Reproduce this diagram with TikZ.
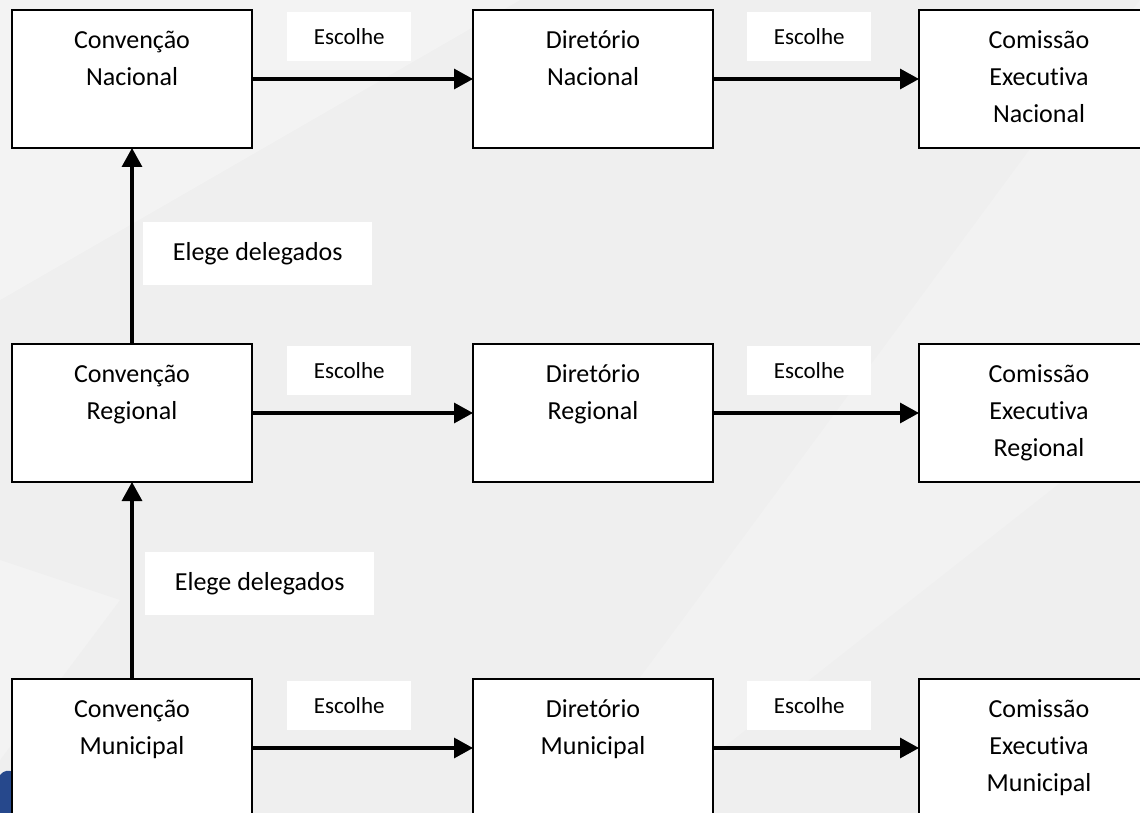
\documentclass[tikz,border=0pt]{standalone}
\usepackage{fontspec}
\setmainfont{Carlito}[Ligatures={NoCommon}]
\usetikzlibrary{positioning,arrows.meta}
\definecolor{fundo}{RGB}{239,239,239}
\definecolor{azul}{RGB}{38,72,140}
\newcommand{\caixatexto}[1]{\parbox[c][112pt][t]{230pt}{\centering\strut#1}}
\tikzset{
  caixa/.style={draw=black, line width=2.8pt, fill=white, minimum width=240pt, minimum height=138pt,
    inner sep=0pt, outer sep=0pt, font=\fontsize{26}{37}\selectfont},
  rotulo/.style={fill=white, minimum width=124pt, minimum height=49pt, inner sep=0pt, font=\fontsize{23}{27}\selectfont},
  elege/.style={fill=white, minimum width=229pt, minimum height=63pt, inner sep=0pt, font=\fontsize{26}{31}\selectfont},
  seta/.style={line width=3.2pt, -{Triangle[length=19pt,width=20pt]}}
}
\begin{document}
\begin{tikzpicture}[x=1pt,y=-1pt]

\useasboundingbox (0,0) rectangle (1140,813);
\clip (0,0) rectangle (1140,813);
\fill[fundo] (0,0) rectangle (1140,813);
\fill[white,opacity=0.3] (0,0) -- (520,0) -- (0,300) -- cycle;
\fill[white,opacity=0.2] (1140,0) -- (1140,420) -- (640,813) -- (540,813) -- cycle;
\fill[white,opacity=0.25] (0,560) -- (120,600) -- (0,760) -- cycle;
\fill[azul] (0,775) .. controls (4,770) and (9,770) .. (13,772) -- (13,813) -- (0,813) -- cycle;

\node[caixa] (cn) at (132,79) {\caixatexto{Convenção\\Nacional}};
\node[caixa, right=221pt of cn] (dn) {\caixatexto{Diretório\\Nacional}};
\node[caixa, right=206pt of dn] (en) {\caixatexto{Comissão\\Executiva\\Nacional}};

\node[caixa, below=196pt of cn] (cr) {\caixatexto{Convenção\\Regional}};
\node[caixa, below=196pt of dn] (dr) {\caixatexto{Diretório\\Regional}};
\node[caixa, below=196pt of en] (er) {\caixatexto{Comissão\\Executiva\\Regional}};

\node[caixa, below=197pt of cr] (cm) {\caixatexto{Convenção\\Municipal}};
\node[caixa, below=197pt of dr] (dm) {\caixatexto{Diretório\\Municipal}};
\node[caixa, below=197pt of er] (em) {\caixatexto{Comissão\\Executiva\\Municipal}};

\foreach \c/\d/\e in {cn/dn/en, cr/dr/er, cm/dm/em}
{
  \node[rotulo, above right=18pt and 35pt of \c.east] (esc-\c) {Escolhe};
  \node[rotulo, above right=18pt and 34pt of \d.east] (esc-\d) {Escolhe};
  \draw[seta] (\c) -- (\d);
  \draw[seta] (\d) -- (\e);
}

\node[elege, above right=59pt and 11pt of cr.north] (del1) {Elege delegados};
\node[elege, above right=64pt and 13pt of cm.north] (del2) {Elege delegados};
\draw[seta] (cr) -- (cn);
\draw[seta] (cm) -- (cr);

\end{tikzpicture}
\end{document}
